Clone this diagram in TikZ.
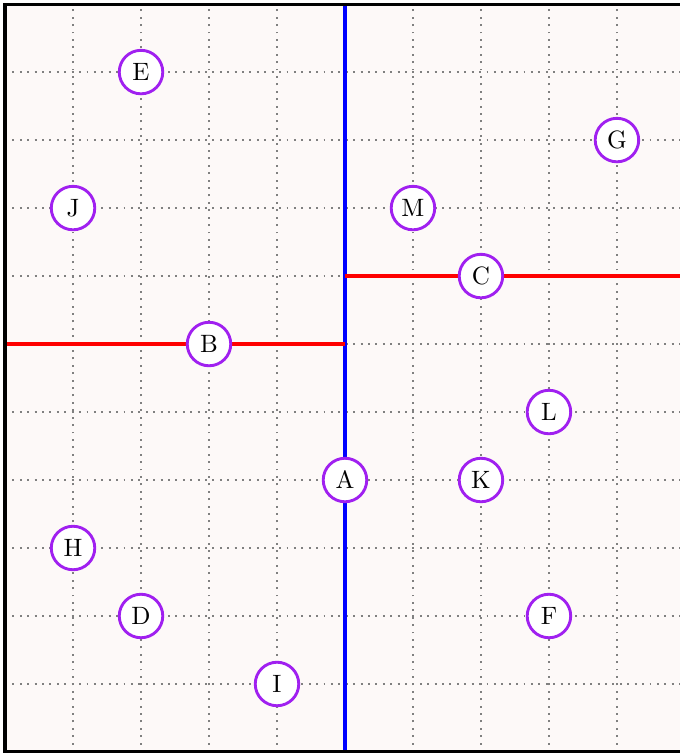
\documentclass[tikz,border=0pt]{standalone}
\definecolor{bgpink}{RGB}{253,249,248}
\definecolor{gridgray}{RGB}{128,128,128}
\definecolor{ptpurple}{RGB}{160,32,240}
\begin{document}
\begin{tikzpicture}[x=1cm,y=1cm,
  pt/.style={circle,draw=ptpurple,line width=1.2pt,fill=white,minimum size=0.64cm,inner sep=0pt,font=\fontsize{10.5}{12}\selectfont},
  gridline/.style={gridgray,line width=0.8pt,dash pattern=on 0.8pt off 2.3pt},
  splitv/.style={blue,line width=2pt},
  splith/.style={red,line width=2pt}]
\useasboundingbox (-0.074,-0.015) rectangle (9.926,11.06);
\fill[bgpink] (0,0) rectangle (10,11);
\foreach \x in {1,...,9} \draw[gridline] (\x,0) -- (\x,11);
\foreach \y in {1,...,10} \draw[gridline] (0,\y) -- (10,\y);
% splitting lines
\coordinate (Abot) at (5,0);
\coordinate (Atop) at (5,11);
\coordinate (Bl) at (0,6);
\coordinate (Br) at (5,6);
\coordinate (Cl) at (5,7);
\coordinate (Cr) at (10,7);
\draw[splitv] (Abot) -- (Atop);
\draw[splith] (Bl) -- (Br);
\draw[splith] (Cl) -- (Cr);
% points
\node[pt] (A) at (5,4) {A};
\node[pt] (B) at (3,6) {B};
\node[pt] (C) at (7,7) {C};
\node[pt] (D) at (2,2) {D};
\node[pt] (E) at (2,10) {E};
\node[pt] (F) at (8,2) {F};
\node[pt] (G) at (9,9) {G};
\node[pt] (H) at (1,3) {H};
\node[pt] (I) at (4,1) {I};
\node[pt] (J) at (1,8) {J};
\node[pt] (K) at (7,4) {K};
\node[pt] (L) at (8,5) {L};
\node[pt] (M) at (6,8) {M};
% frame (right edge lies outside the visible area)
\draw[black,line width=1.3pt] (10.2,0) -- (0,0) -- (0,11) -- (10.2,11);
\end{tikzpicture}
\end{document}
